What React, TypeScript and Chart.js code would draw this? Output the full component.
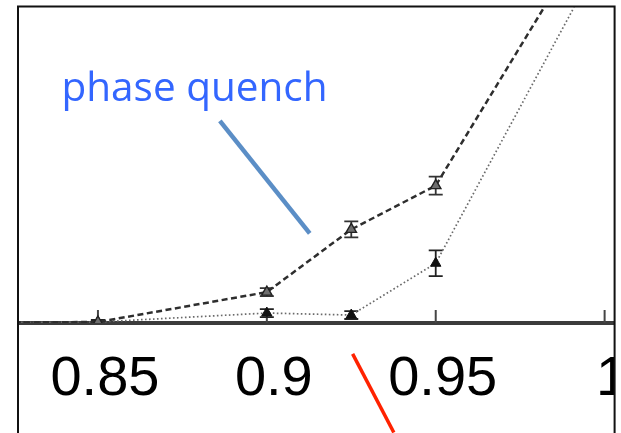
import React, { useEffect, useRef } from 'react';
import { Chart, registerables } from 'chart.js';

Chart.register(...registerables);

// ---- data ----
const xValues = [0.8, 0.85, 0.9, 0.925, 0.95, 1.0];
const phaseQuench = [0, 0.001, 0.031, 0.094, 0.138, 0.417];
const phaseQuenchErr = [0, 0.002, 0.004, 0.008, 0.009, 0.02];
const otherSeries = [0, 0.001, 0.01, 0.008, 0.06, 0.374];
const otherErr = [0, 0.002, 0.004, 0.004, 0.013, 0.02];
const tickValues = [0.85, 0.9, 0.95, 1.0];
const tickLabels = ['0.85', '0.9', '0.95', '1'];

// annotations (data coordinates)
const annotationText = 'phase quench';
const annotationTextAt = [0.8392, 0.223];
const blueLine = [[0.8861, 0.203], [0.9127, 0.09]];
const redLine = [[0.9254, -0.031], [0.9376, -0.11]];

const X_MIN = 0.82663;
const X_MAX = 1.00266;
const Y_MIN = 0;
const Y_MAX = 0.317;

const decorPlugin = {
  id: 'decor',
  beforeDatasetsDraw(chart: any) {
    const ctx = chart.ctx;
    const xs = chart.scales.x;
    const ys = chart.scales.y;
    const area = chart.chartArea;
    ctx.save();
    // upward tick marks
    ctx.strokeStyle = '#454545';
    ctx.lineWidth = 2;
    tickValues.forEach((v) => {
      const px = xs.getPixelForValue(v);
      ctx.beginPath();
      ctx.moveTo(px, area.bottom);
      ctx.lineTo(px, area.bottom - 13);
      ctx.stroke();
    });
    // error bars
    ctx.beginPath();
    ctx.rect(area.left, area.top, area.right - area.left, area.bottom - area.top);
    ctx.clip();
    chart.data.datasets.forEach((ds: any) => {
      const errs = ds.errors;
      if (!errs) return;
      ctx.strokeStyle = ds.errorColor;
      ctx.lineWidth = 1.8;
      ctx.setLineDash([]);
      ds.data.forEach((pt: any, j: number) => {
        const e = errs[j];
        if (!e) return;
        const px = xs.getPixelForValue(pt.x);
        const y1 = ys.getPixelForValue(pt.y - e);
        const y2 = ys.getPixelForValue(pt.y + e);
        ctx.beginPath();
        ctx.moveTo(px, y1);
        ctx.lineTo(px, y2);
        ctx.moveTo(px - 7, y1);
        ctx.lineTo(px + 7, y1);
        ctx.moveTo(px - 7, y2);
        ctx.lineTo(px + 7, y2);
        ctx.stroke();
      });
    });
    ctx.restore();
  },
  afterDraw(chart: any) {
    const ctx = chart.ctx;
    const xs = chart.scales.x;
    const ys = chart.scales.y;
    const area = chart.chartArea;
    const W = chart.width;
    const H = chart.height;
    ctx.save();
    // white outside frame
    ctx.fillStyle = '#ffffff';
    ctx.fillRect(area.right + 1, 0, W - area.right, H);
    ctx.fillRect(0, 0, W, area.top - 1);
    ctx.fillRect(0, 0, area.left - 1, H);
    // frame
    ctx.strokeStyle = '#111111';
    ctx.lineWidth = 2;
    ctx.beginPath();
    ctx.moveTo(area.left - 1, H + 5);
    ctx.lineTo(area.left - 1, area.top - 1);
    ctx.lineTo(area.right + 1, area.top - 1);
    ctx.lineTo(area.right + 1, H + 5);
    ctx.stroke();
    // annotation text
    ctx.fillStyle = '#3366ff';
    ctx.font = '40.5px "Open Sans"';
    ctx.textBaseline = 'alphabetic';
    ctx.textAlign = 'left';
    ctx.fillText(
      annotationText,
      xs.getPixelForValue(annotationTextAt[0]),
      ys.getPixelForValue(annotationTextAt[1])
    );
    // blue pointer
    ctx.strokeStyle = '#5b8ec6';
    ctx.lineWidth = 4.5;
    ctx.beginPath();
    ctx.moveTo(xs.getPixelForValue(blueLine[0][0]), ys.getPixelForValue(blueLine[0][1]));
    ctx.lineTo(xs.getPixelForValue(blueLine[1][0]), ys.getPixelForValue(blueLine[1][1]));
    ctx.stroke();
    // red pointer
    ctx.strokeStyle = '#ff2200';
    ctx.lineWidth = 3.5;
    ctx.beginPath();
    ctx.moveTo(xs.getPixelForValue(redLine[0][0]), ys.getPixelForValue(redLine[0][1]));
    ctx.lineTo(xs.getPixelForValue(redLine[1][0]), ys.getPixelForValue(redLine[1][1]));
    ctx.stroke();
    ctx.restore();
  },
};

export default function App() {
  const canvasRef = useRef<HTMLCanvasElement | null>(null);

  useEffect(() => {
    if (!canvasRef.current) return;
    const chart = new Chart(canvasRef.current, {
      type: 'line',
      data: {
        datasets: [
          {
            label: 'phase quench',
            data: xValues.map((x, i) => ({ x, y: phaseQuench[i] })),
            borderColor: '#2e2e2e',
            borderWidth: 2.5,
            borderDash: [6, 3.5],
            pointStyle: 'triangle',
            pointRadius: 6,
            pointBackgroundColor: '#6e6e6e',
            pointBorderColor: '#222222',
            pointBorderWidth: 1.4,
            fill: false,
            tension: 0,
            errors: phaseQuenchErr,
            errorColor: '#333333',
          } as any,
          {
            label: 'other',
            data: xValues.map((x, i) => ({ x, y: otherSeries[i] })),
            borderColor: '#6a6a6a',
            borderWidth: 1.7,
            borderDash: [1.6, 2.4],
            pointStyle: 'triangle',
            pointRadius: 6,
            pointBackgroundColor: '#111111',
            pointBorderColor: '#111111',
            pointBorderWidth: 1,
            fill: false,
            tension: 0,
            errors: otherErr,
            errorColor: '#222222',
          } as any,
        ],
      },
      options: {
        responsive: false,
        animation: false,
        layout: { padding: { left: 19, right: 7, top: 6, bottom: 0 } },
        plugins: {
          legend: { display: false },
          tooltip: { enabled: false },
          title: { display: false },
        },
        scales: {
          x: {
            type: 'linear',
            min: X_MIN,
            max: X_MAX,
            afterBuildTicks: (scale: any) => {
              scale.ticks = tickValues.map((v) => ({ value: v }));
            },
            afterFit: (scale: any) => {
              scale.height = 110;
              scale.paddingLeft = 0;
              scale.paddingRight = 0;
            },
            grid: { display: false, drawTicks: false },
            border: { display: true, color: '#3c3c3c', width: 4 },
            ticks: {
              autoSkip: false,
              maxRotation: 0,
              minRotation: 0,
              labelOffset: 7,
              padding: 23,
              color: '#000000',
              font: { family: '"Liberation Sans", Arial, sans-serif', size: 56 },
              callback: (value: any) => {
                const idx = tickValues.findIndex((t) => Math.abs(t - Number(value)) < 1e-9);
                return idx >= 0 ? tickLabels[idx] : '';
              },
            },
          },
          y: {
            type: 'linear',
            display: false,
            min: Y_MIN,
            max: Y_MAX,
          },
        },
      },
      plugins: [decorPlugin],
    });
    return () => chart.destroy();
  }, []);

  return (
    <div style={{ position: 'fixed', left: 0, top: 0, width: 621, height: 433, background: '#fff' }}>
      <canvas ref={canvasRef} width={621} height={433} style={{ display: 'block' }} />
    </div>
  );
}
